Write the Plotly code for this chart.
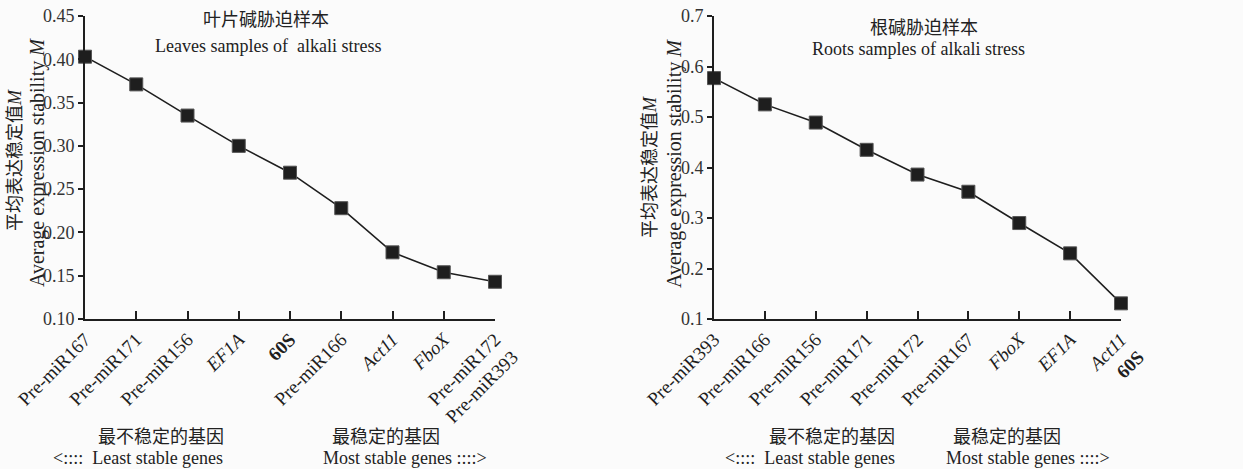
import plotly.graph_objects as go

# Gene ranking by average expression stability M (geNorm)
leaf_genes = ["Pre-miR167", "Pre-miR171", "Pre-miR156", "<i>EF1A</i>", "<b>60S</b>",
              "Pre-miR166", "<i>Act11</i>", "<i>FboX</i>", "Pre-miR172<br>Pre-miR393"]
leaf_m = [0.403, 0.371, 0.335, 0.300, 0.269, 0.228, 0.177, 0.154, 0.143]

root_genes = ["Pre-miR393", "Pre-miR166", "Pre-miR156", "Pre-miR171", "Pre-miR172",
              "Pre-miR167", "<i>FboX</i>", "<i>EF1A</i>", "<i>Act11</i><br><b>60S</b>"]
root_m = [0.577, 0.525, 0.489, 0.435, 0.386, 0.352, 0.290, 0.230, 0.131]

leaf_yticks = [0.10, 0.15, 0.20, 0.25, 0.30, 0.35, 0.40, 0.45]
root_yticks = [0.1, 0.2, 0.3, 0.4, 0.5, 0.6, 0.7]

W, H = 1243, 469
MT, MB = 16, 150
PLOT_TOP, PLOT_BOT = MT, H - MB

SERIF = "Liberation Serif, Times New Roman, Noto Sans CJK SC, serif"
INK = "#1e1e1e"


def px_x(x):
    return x / W


def px_y(y):
    return (PLOT_BOT - y) / (PLOT_BOT - PLOT_TOP)


fig = go.Figure()

for vals, xa, ya in [(leaf_m, "x", "y"), (root_m, "x2", "y2")]:
    fig.add_trace(go.Scatter(
        x=list(range(len(vals))), y=vals, xaxis=xa, yaxis=ya,
        mode="lines+markers", cliponaxis=False, showlegend=False,
        line=dict(color=INK, width=1.6),
        marker=dict(symbol="square", size=13, color=INK,
                    line=dict(color="#555555", width=1)),
    ))

xcommon = dict(range=[0, 8], showgrid=False, zeroline=False, showline=True,
               linecolor=INK, linewidth=2, ticks="inside", ticklen=8,
               tickwidth=1.6, tickcolor=INK, tickangle=-45, automargin=False,
               tickfont=dict(family=SERIF, size=19, color=INK),
               tickmode="array", tickvals=list(range(9)))
ycommon = dict(showgrid=False, zeroline=False, showline=True, linecolor=INK,
               linewidth=2, ticks="outside", ticklen=5, tickwidth=1.6,
               tickcolor=INK, automargin=False,
               tickfont=dict(family=SERIF, size=18, color="#333333"),
               tickmode="array")

fig.update_layout(
    width=W, height=H,
    margin=dict(l=0, r=0, t=MT, b=MB, autoexpand=False),
    paper_bgcolor="#fbfbfb", plot_bgcolor="#fbfbfb",
    xaxis=dict(xcommon, domain=[px_x(85), px_x(495)], ticktext=leaf_genes, anchor="y"),
    yaxis=dict(ycommon, domain=[0, 1], range=[0.10, 0.45], tickvals=leaf_yticks,
               tickformat=".2f", anchor="x"),
    xaxis2=dict(xcommon, domain=[px_x(714), px_x(1121)], ticktext=root_genes, anchor="y2"),
    yaxis2=dict(ycommon, domain=[0, 1], range=[0.1, 0.7], tickvals=root_yticks,
                tickformat=".1f", anchor="x2"),
)

notes = [
    # panel titles
    ("叶片碱胁迫样本", 266, 20, 18, 0),
    ("Leaves samples of  alkali stress", 268, 46, 18, 0),
    ("根碱胁迫样本", 924, 28, 18, 0),
    ("Roots samples of alkali stress", 918, 49, 18, 0),
    # y-axis titles
    ("平均表达稳定值<i>M</i>", 15, 160, 18, -90),
    ("Average expression stability <i>M</i>", 37, 163, 20, -90),
    ("平均表达稳定值<i>M</i>", 650, 167, 18, -90),
    ("Average expression stability <i>M</i>", 674, 164, 20, -90),
    # ranking direction captions
    ("最不稳定的基因", 161, 437, 18, 0),
    ("<::::  Least stable genes", 138, 458, 18, 0),
    ("最稳定的基因", 386, 437, 18, 0),
    ("Most stable genes ::::>", 405, 458, 18, 0),
    ("最不稳定的基因", 832, 437, 18, 0),
    ("<::::  Least stable genes", 810, 458, 18, 0),
    ("最稳定的基因", 1007, 437, 18, 0),
    ("Most stable genes ::::>", 1028, 458, 18, 0),
]
for text, x, y, size, angle in notes:
    fig.add_annotation(
        text=text, x=px_x(x), y=px_y(y), xref="paper", yref="paper",
        xanchor="center", yanchor="middle", showarrow=False, textangle=angle,
        font=dict(family=SERIF, size=size, color="#222222"),
    )

fig.write_html("out.html")
